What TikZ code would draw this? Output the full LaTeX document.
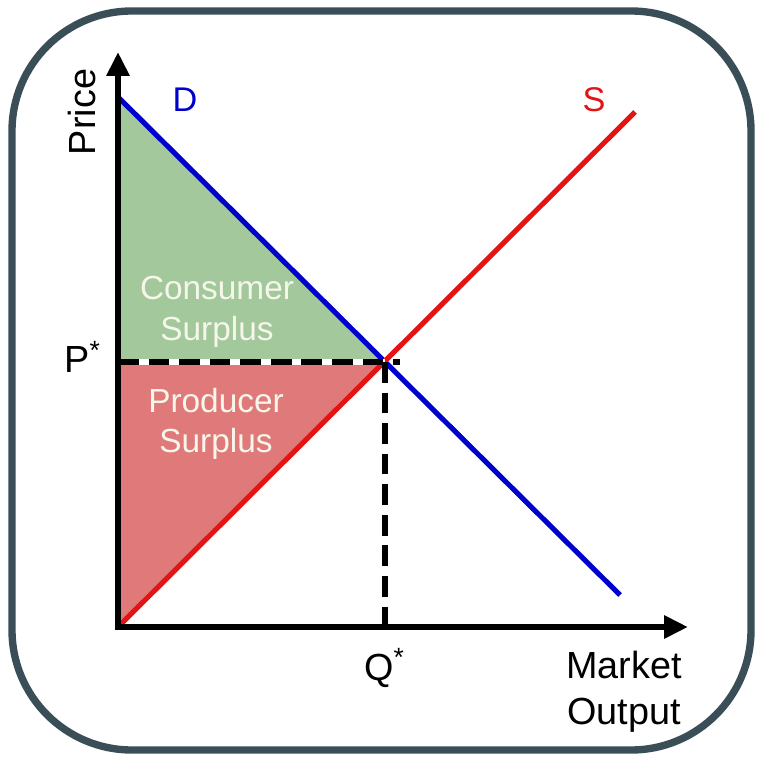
\documentclass[tikz,border=0pt]{standalone}
\usepackage{fontspec}
\setmainfont{Liberation Sans}
\usetikzlibrary{arrows.meta}

\definecolor{frameslate}{RGB}{58,78,88}
\definecolor{csgreen}{RGB}{162,200,156}
\definecolor{psred}{RGB}{224,122,122}
\definecolor{demandblue}{RGB}{0,0,205}
\definecolor{supplyred}{RGB}{228,20,20}
\definecolor{labelwhite}{RGB}{246,246,234}

\begin{document}
\begin{tikzpicture}[
  x=0.02cm, y=-0.02cm,
  axis/.style={-{Triangle[length=0.48cm,width=0.44cm]}, line width=3.4pt},
  demand/.style={line width=2.9pt, draw=demandblue},
  supply/.style={line width=2.9pt, draw=supplyred},
  guide/.style={line width=3.2pt, dash pattern=on 11.8pt off 5.6pt},
  note/.style={font=\fontsize{21.5}{26}\selectfont, inner sep=0pt},
  curvelabel/.style={font=\fontsize{19.5}{23}\selectfont, inner sep=0pt},
  area/.style={font=\fontsize{19}{23}\selectfont, text=labelwhite, align=center, inner sep=0pt},
]

% Coordinate system: pixels of the 763 x 759 frame, y downwards
\useasboundingbox (0,0) rectangle (763,759);
\draw[frameslate, line width=4.2pt, rounded corners=2.4cm] (12,11) rectangle (751,750);

\coordinate (origin) at (118,627);
\coordinate (ytip) at (118,52);
\coordinate (xtip) at (688,627);
\coordinate (dtop) at (118,97);
\coordinate (dend) at (620,595);
\coordinate (send) at (635,112);
\coordinate (eq) at (385,362);
\coordinate (pstar) at (118,362);
\coordinate (hend) at (400,362);
\coordinate (qstar) at (385,627);

% Surplus areas
\fill[csgreen] (dtop) -- (eq) -- (pstar) -- cycle;
\fill[psred] (pstar) -- (eq) -- (origin) -- cycle;

\node[area, anchor=north] (consumer) at (217,276) {Consumer\\Surplus};
\node[area, anchor=north] (producer) at (216,388) {Producer\\Surplus};

% Demand and supply
\draw[demand] (dtop) -- (dend);
\draw[supply] (origin) -- (send);

% Equilibrium guides
\draw[white, line width=3.2pt] (pstar) -- (eq);
\draw[guide] (pstar) -- (hend);
\draw[guide] (eq) -- (qstar);

% Axes
\draw[axis] (origin) -- (ytip);
\draw[axis] ([xshift=-1.7pt]origin) -- (xtip);

% Labels
\node[note, rotate=90] (price) at (82,112) {Price};
\node[curvelabel, text=demandblue, anchor=base] (dlabel) at (185,112) {D};
\node[curvelabel, text=supplyred, anchor=base] (slabel) at (594,112) {S};
\node[note, anchor=base west] (plabel) at (64,373) {P\textsuperscript{*}};
\node[note, anchor=base west] (qlabel) at (364,680) {Q\textsuperscript{*}};
\node[note, align=center, anchor=north] (output) at (624,651) {Market\\Output};

\end{tikzpicture}
\end{document}
